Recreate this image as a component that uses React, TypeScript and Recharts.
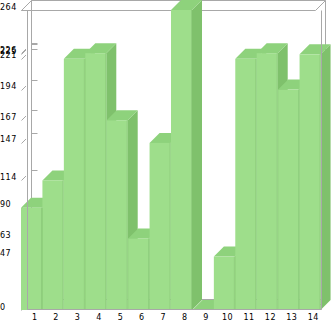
import React from 'react';
import { BarChart, Bar, XAxis, YAxis } from 'recharts';

const CATEGORIES = ['1', '2', '3', '4', '5', '6', '7', '8', '9', '10', '11', '12', '13', '14'];
const VALUES = [90, 114, 221, 226, 167, 63, 147, 264, 0, 47, 221, 226, 194, 225];
const Y_TICKS = [0, 47, 63, 90, 114, 147, 167, 194, 221, 225, 226, 264];
const Y_MAX = 264;

const data = CATEGORIES.map((name, i) => ({ name, value: VALUES[i] }));

const DEPTH = 10;
const FRONT = '#9ede8b';
const TOP = '#8ed27c';
const SIDE = '#7fc16c';
const EDGE = '#8fcd7d';
const FRAME = '#a8a8a8';
const FONT = '"DejaVu Sans", sans-serif';

function geometry(props: any) {
  const { x, y, width, height, index, value } = props;
  const bottom = y + height;
  const refVal = value || 1;
  const ppu = value ? height / refVal : 0;
  const left = x - index * width;
  const right = left + width * CATEGORIES.length;
  const top = bottom - Y_MAX * ppu;
  return { left, right, top, bottom, ppu };
}

function BackFrame({ g }: any) {
  const { left, right, top, bottom, ppu } = g;
  const D = DEPTH;
  const L = Math.round(left) + 0.5;
  const R = Math.round(right) + 0.5;
  const T = Math.round(top) + 0.5;
  const B = Math.round(bottom) - 0.5;
  const s = { stroke: FRAME, strokeWidth: 1, fill: 'none' };
  return (
    <g>
      <line x1={L + D} y1={T - D} x2={R + D} y2={T - D} {...s} />
      <line x1={L + D} y1={T - D} x2={L + D} y2={B - D} {...s} />
      <line x1={R + D} y1={T - D} x2={R + D} y2={B - D} {...s} />
      <line x1={L + D} y1={B - D} x2={R + D} y2={B - D} {...s} />
      <line x1={L} y1={T} x2={R} y2={T} {...s} />
      <line x1={L} y1={T} x2={L + D} y2={T - D} {...s} />
      <line x1={R} y1={T} x2={R + D} y2={T - D} {...s} />
      <line x1={R} y1={B} x2={R + D} y2={B - D} {...s} />
      <line x1={L} y1={B} x2={L + D} y2={B - D} {...s} />
      {Y_TICKS.map((v) => {
        const yy = Math.round(bottom - v * ppu) + 0.5;
        return (
          <g key={v}>
            <line x1={L} y1={yy} x2={L + 4.5} y2={yy - 4.5} {...s} />
            <line x1={L + D} y1={yy - D} x2={L + D + 6} y2={yy - D} {...s} />
          </g>
        );
      })}
    </g>
  );
}

function FrontFrame({ g }: any) {
  const { left, right, top, bottom } = g;
  const L = Math.round(left) + 0.5;
  const R = Math.round(right) + 0.5;
  const T = Math.round(top) + 0.5;
  const B = Math.round(bottom) - 0.5;
  const s = { stroke: FRAME, strokeWidth: 1, fill: 'none' };
  return (
    <g>
      <line x1={L} y1={T} x2={L} y2={B} {...s} />
      <line x1={R} y1={T} x2={R} y2={B} {...s} />
      <line x1={L} y1={B} x2={R} y2={B} {...s} />
    </g>
  );
}

function Bar3D(props: any) {
  const { x, y, width, height, index } = props;
  const D = DEPTH;
  const w = width;
  const h = Math.max(0, height || 0);
  const g = geometry(props);
  const top = `${x},${y} ${x + D},${y - D} ${x + w + D},${y - D} ${x + w},${y}`;
  const side = `${x + w},${y} ${x + w + D},${y - D} ${x + w + D},${y + h - D} ${x + w},${y + h}`;
  return (
    <g>
      {index === 0 ? <BackFrame g={g} /> : null}
      <polygon points={side} fill={SIDE} />
      <polygon points={top} fill={TOP} />
      <rect x={x} y={y} width={w} height={h} fill={FRONT} />
      <line x1={x + w - 0.5} y1={y} x2={x + w - 0.5} y2={y + h} stroke={EDGE} strokeWidth={1} />
      {index === CATEGORIES.length - 1 ? <FrontFrame g={g} /> : null}
    </g>
  );
}

function YTick(props: any) {
  const { y, payload } = props;
  return (
    <text x={0} y={y - 3} dominantBaseline="central" textAnchor="start" fontFamily={FONT} fontSize={8} letterSpacing={0.5} fill="#000">
      {payload.value}
    </text>
  );
}

function XTick(props: any) {
  const { x, y, payload } = props;
  return (
    <text x={x + 3} y={y + 7} dominantBaseline="central" textAnchor="middle" fontFamily={FONT} fontSize={8} letterSpacing={0.5} fill="#000">
      {payload.value}
    </text>
  );
}

export default function App() {
  return (
    <div style={{ position: 'absolute', left: 0, top: 0, width: 333, height: 321, background: '#fff' }}>
      <BarChart
        width={333}
        height={321}
        data={data}
        margin={{ top: 10, right: 12, bottom: 0, left: 0 }}
        barCategoryGap={0}
        barGap={0}
      >
        <XAxis
          dataKey="name"
          axisLine={false}
          tickLine={false}
          tickSize={0}
          tickMargin={0}
          height={11}
          interval={0}
          tick={<XTick />}
        />
        <YAxis
          domain={[0, Y_MAX]}
          ticks={Y_TICKS}
          interval={0}
          axisLine={false}
          tickLine={false}
          tickSize={0}
          tickMargin={0}
          width={21}
          tick={<YTick />}
        />
        <Bar dataKey="value" isAnimationActive={false} shape={<Bar3D />} />
      </BarChart>
    </div>
  );
}
